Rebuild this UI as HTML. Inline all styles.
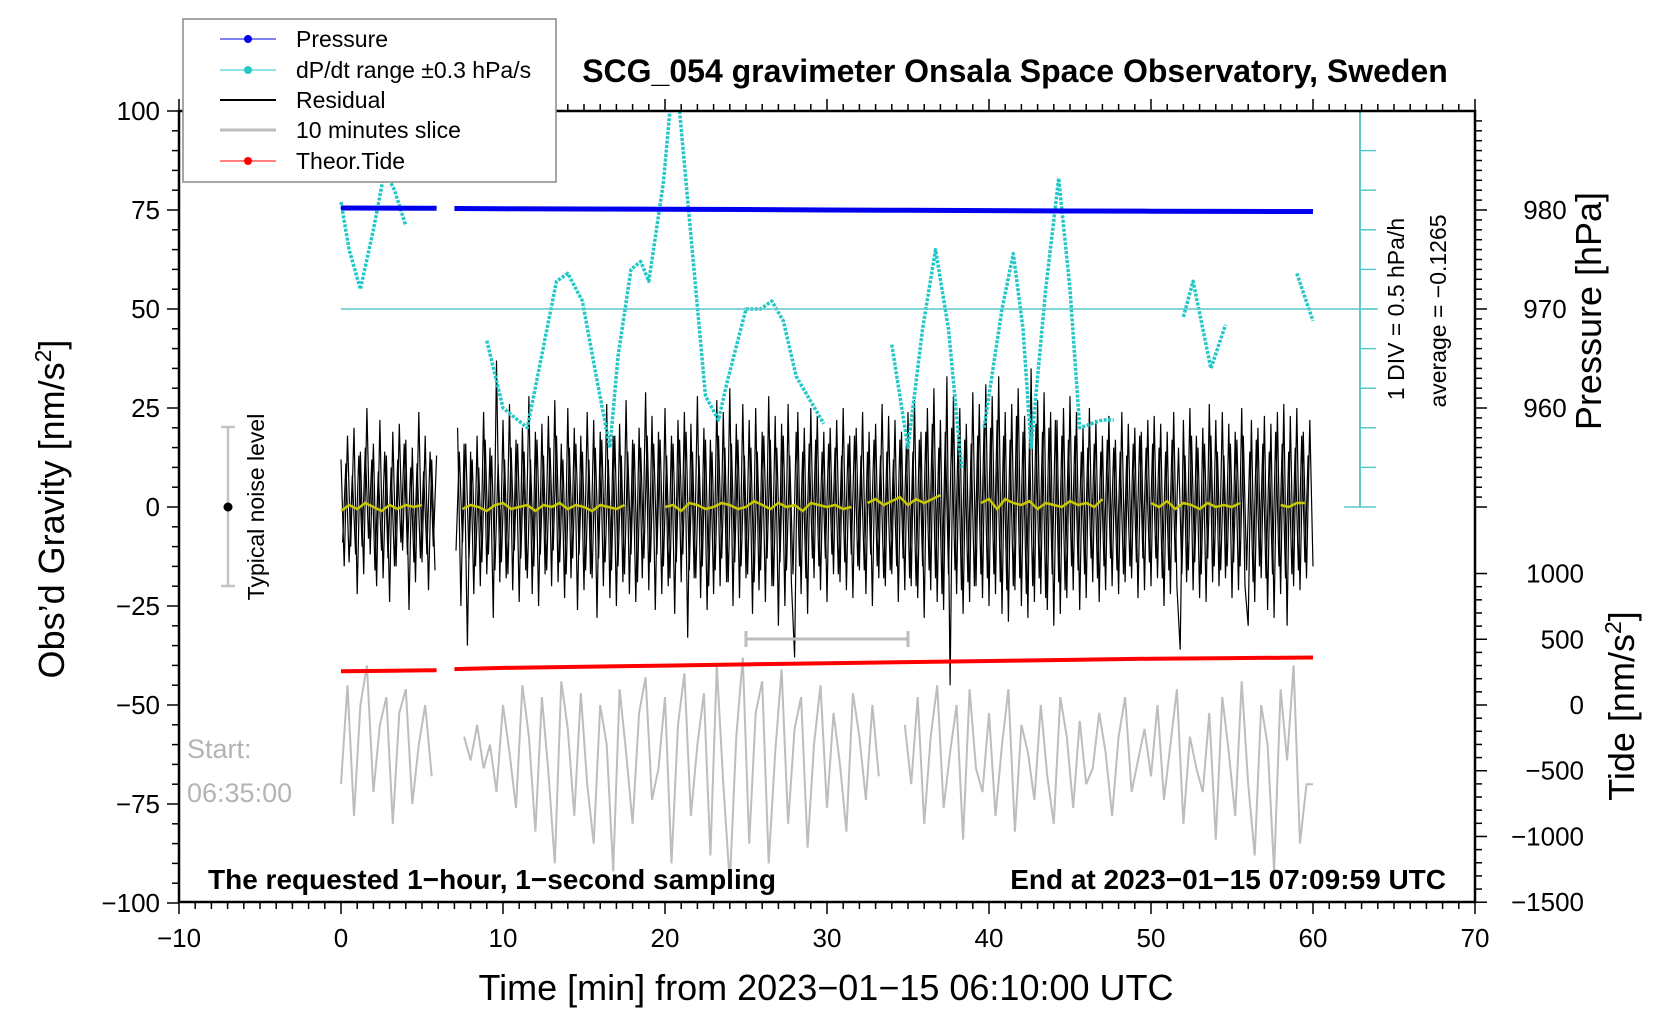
<!DOCTYPE html>
<html><head><meta charset="utf-8"><style>
html,body{margin:0;padding:0;background:#fff}
svg{display:block;font-family:"Liberation Sans",Arial,sans-serif}
</style></head><body>
<svg id="chart" width="1676" height="1020" viewBox="0 0 1676 1020" xmlns="http://www.w3.org/2000/svg">
<g id="marks"></g>
<g id="axes"></g>
</svg>
<script>
// ---- data ----
const residualStep = 0.2; // minutes
const residual = [
12,-15,18,-10,20,-22,14,-17,25,-12,16,-20,22,-18,13,-24,19,-15,21,-11,17,-26,15,-19,24,
-14,18,-21,12,-16,null,null,null,null,null,null,20,-25,16,-35,14,-22,18,-20,24,-17,15,-28,37,-19,
22,-18,26,-21,17,-24,20,-16,28,-22,19,-25,21,-17,23,-20,27,-19,16,-23,25,-18,20,-26,18,
-21,24,-17,22,-28,19,-20,26,-23,18,-25,21,-19,27,-22,17,-24,20,-18,29,-21,23,-26,19,-22,
25,-20,18,-27,22,-19,24,-33,21,-18,28,-23,20,-26,17,-22,27,-20,24,-19,30,-25,21,-23,26,
-18,22,-27,25,-21,19,-24,28,-20,23,-30,21,-25,26,-19,-38,24,-22,20,-27,25,-18,23,-21,19,
-24,20,-17,22,-19,25,-21,18,-23,20,-16,24,-22,19,-25,21,-18,26,-20,23,-17,22,-24,19,-21,
24,-20,27,-23,19,-28,25,-21,30,-24,22,-26,33,-45,28,-22,25,-27,21,-24,29,-20,26,-23,31,
-25,28,-22,33,-27,24,-29,26,-21,30,-25,23,-28,35,-24,27,-22,29,-26,24,-30,22,-27,25,-23,
28,-21,24,-26,20,-23,25,-19,22,-24,18,-21,23,-20,17,-22,24,-19,21,-18,20,-23,19,-21,22,
-20,23,-18,21,-25,19,-22,24,-20,-36,22,-19,25,-21,18,-23,20,-24,26,-19,22,-20,24,-18,21,
-23,19,-21,25,-20,-30,22,-24,20,-18,23,-26,21,-28,24,-22,26,-30,23,-20,25,-21,19,-18,22,
-15];
// second residual sample set, offset by 0.1 min (core of the noise band)
const residualB = [
-9,11,-14,8,-12,13,-10,15,-8,12,-16,9,-11,14,-13,10,-15,12,-9,16,-12,10,-14,11,-13,
9,-12,14,-10,13,null,null,null,null,null,-11,14,-9,16,-13,12,-15,10,-14,17,-12,13,-16,11,
-14,12,-17,15,-11,16,-13,14,-18,12,-15,17,-12,13,-16,15,-11,18,-14,12,-17,15,-13,16,-12,
14,-16,12,-18,15,-13,17,-14,12,-16,18,-15,13,-17,14,-12,16,-19,15,-13,18,-14,16,-12,17,
-15,13,-18,16,-14,17,-12,19,-16,14,-18,13,-15,17,-20,14,-16,18,-13,15,-19,16,-14,17,-15,
13,-17,15,-19,14,-16,18,-13,17,-20,15,-14,18,-16,13,-17,19,-15,14,-18,16,-13,17,-15,14,
-13,16,-12,15,-17,13,-14,16,-12,18,-15,13,-16,14,-12,17,-15,13,-18,14,-16,12,-15,17,-13,
16,-18,14,-20,17,-15,19,-16,21,-18,15,-22,19,-17,20,-16,18,-21,17,-19,16,-20,18,-17,21,
-18,20,-17,22,-19,18,-21,17,-20,23,-18,19,-22,17,-20,21,-18,19,-23,20,-17,22,-19,18,-21,
17,-15,18,-16,14,-17,15,-13,16,-18,14,-15,17,-13,15,-16,14,-17,13,-15,16,-14,18,-13,15,
-14,16,-13,15,-18,14,-16,17,-14,15,-17,13,-16,18,-14,15,-17,16,-13,18,-15,14,-16,13,-15,
16,-14,17,-15,18,-16,14,-19,17,-15,16,-18,14,-17,19,-15,16,-18,14,-17,15,-16,18,-14,13];
const sliceStep = 0.4;
const slice = [
-70,-45,-78,-50,-40,-72,-55,-48,-80,-52,-46,-75,-60,-50,-68,null,null,null,null,-58,-64,-55,-66,-60,-72,
-50,-62,-76,-45,-58,-82,-48,-67,-90,-44,-56,-78,-47,-70,-85,-50,-60,-92,-46,-62,-80,-52,-43,-74,-66,
-48,-90,-55,-42,-78,-60,-47,-88,-40,-70,-95,-58,-38,-85,-52,-44,-90,-62,-41,-80,-56,-48,-86,-60,-45,
-76,-52,-65,-82,-47,-58,-74,-50,-68,null,null,null,-55,-70,-48,-80,-58,-45,-76,-62,-50,-84,-46,-66,-72,
-52,-78,-60,-46,-82,-55,-62,-74,-50,-68,-80,-48,-58,-76,-54,-70,-66,-52,-62,-78,-58,-48,-72,-64,-56,
-68,-50,-74,-60,-46,-80,-58,-66,-72,-52,-84,-48,-62,-78,-44,-70,-88,-50,-60,-92,-46,-64,-40,-85,-70,
-70];
const yellowStep = 0.5;
const yellow = [
-1,0.5,-0.5,1,0,-1,0.5,-0.5,0.5,0,0.5,null,null,null,null,-0.5,0.5,0,-1,0.5,1,-0.5,0,0.5,-1,
0.5,0,1,-0.5,0.5,0,-1,0.5,0,-0.5,0.5,null,null,null,null,0,0.5,-1,1,0.5,-0.5,0,1,0.5,-0.5,
0,1.5,0.5,-0.5,1,0,0.5,-1,1,0.5,0,0.5,-0.5,0,null,1,2,0.5,1.5,2.5,0.5,2,1,2,3,
null,null,null,null,1,2,-0.5,2,1,0.5,1.5,-0.5,1,0.5,0,1.5,0.5,1,0,2,null,null,null,null,null,
1,0,1.5,-0.5,1,0.5,-0.5,1,0,0.5,0,1,null,null,null,null,0.5,0,1,1];
const cyanT = [0,0.5,1.2,2,2.7,3.3,4,null,9,10,11.5,13.3,14,14.9,15.8,16.6,17.1,17.9,18.5,19,19.9,20.3,null,20.9,22.5,23.3,23.8,25,25.9,26.6,27.3,28.1,29.8,null,34,35,35.9,36.7,37.5,38.3,null,39.7,40.8,41.5,42.1,42.6,43.5,44.3,45,45.6,47,47.7,null,52,52.6,53.7,54.6,null,59,60];
const cyanG = [77,65,55,70,85,80,71,null,42,25,20,57,59,52,32,15,38,60,62,57,82,100,null,100,28,22,31,50,50,52,47,33,21,null,41,15,45,65,45,10,null,20,50,64,45,15,55,83,55,20,22,22,null,48,57,35,46,null,59,47];
const pressT = [0,5,5.9,null,7,10,15,20,25,30,35,40,45,50,55,60];
const pressHPa = [980.2,980.18,980.17,null,980.15,980.12,980.1,980.08,980.05,980.0,979.97,979.94,979.9,979.88,979.86,979.85];
const tideT = [0,5,5.9,null,7,10,15,20,25,30,35,40,45,50,55,60];
const tideV = [256,263,265,null,273,282,291,300,309,317,326,335,343,352,357,361];
const xTicks = [-10,0,10,20,30,40,50,60,70];
const yTicks = [100,75,50,25,0,-25,-50,-75,-100];
const pTicks = [980,970,960];
const tTicks = [1000,500,0,-500,-1000,-1500];

// ---- scales ----
const X = t => 341 + t*16.2;
const Y = g => 507 - g*3.96;
const YP = p => Y(50 + (p-970)*2.5);
const YT = v => Y(-50 + v/500*16.6);
const NS = 'http://www.w3.org/2000/svg';
const marks = document.getElementById('marks');
const axes = document.getElementById('axes');
function mk(tag, attrs, parent){const e=document.createElementNS(NS,tag);for(const k in attrs)e.setAttribute(k,attrs[k]);(parent||marks).appendChild(e);return e;}
function pathFrom(ts, vs, yf){let d='',pen=false;for(let i=0;i<ts.length;i++){if(ts[i]===null||vs[i]===null){pen=false;continue;}d+=(pen?'L':'M')+X(ts[i]).toFixed(1)+','+yf(vs[i]).toFixed(1);pen=true;}return d;}
function stepped(arr, step, off){return arr.map((v,i)=>(off||0)+i*step);}

// gray slice
let e = mk('path',{d:pathFrom(stepped(slice,sliceStep),slice,Y),fill:'none',stroke:'#bdbdbd','stroke-width':2});


// residual
e = mk('path',{d:pathFrom(stepped(residualB,residualStep,0.1),residualB,Y),fill:'none',stroke:'#000','stroke-width':1.2});


e = mk('path',{d:pathFrom(stepped(residual,residualStep),residual,Y),fill:'none',stroke:'#000','stroke-width':1.2});


// yellow smoothed
e = mk('path',{d:pathFrom(stepped(yellow,yellowStep),yellow,Y),fill:'none',stroke:'#c8c800','stroke-width':2.5});


// cyan dP/dt
e = mk('path',{d:pathFrom(cyanT,cyanG,Y),fill:'none',stroke:'#22c8c8','stroke-width':3.5,'stroke-dasharray':'3 1.5','stroke-linejoin':'round'});


// pressure
e = mk('path',{d:pathFrom(pressT,pressHPa,YP),fill:'none',stroke:'#0000ee','stroke-width':5});


// tide
e = mk('path',{d:pathFrom(tideT,tideV,YT),fill:'none',stroke:'#ff0000','stroke-width':4});



// cyan axis
const cx=1360;
e = mk('line',{x1:341,y1:YP(970),x2:cx+18,y2:YP(970),stroke:'#5cc8c8','stroke-width':1.5},axes);


e = mk('line',{x1:cx,y1:111,x2:cx,y2:507,stroke:'#5cc8c8','stroke-width':2},axes);


for(let i=0;i<=10;i++){const y=111+i*39.6;const cap=(i===0||i===10);mk('line',{x1:cap?cx-16:cx,y1:y,x2:cx+16,y2:y,stroke:'#5cc8c8','stroke-width':1.5},axes);}

// frame
e = mk('rect',{x:179,y:111,width:1296,height:791,fill:'none',stroke:'#000','stroke-width':2.5},axes);


// x ticks
for(let t=-10;t<=70;t++){const maj=t%10===0;mk('line',{x1:X(t),y1:902,x2:X(t),y2:902+(maj?12:7),stroke:'#000','stroke-width':1.5},axes);mk('line',{x1:X(t),y1:111,x2:X(t),y2:111-(maj?12:7),stroke:'#000','stroke-width':1.5},axes);}
xTicks.forEach(t=>{const el=mk('text',{x:X(t),y:947,'font-size':26,'text-anchor':'middle'},axes);el.textContent=String(t).replace('-','\u2212');});
// y ticks
for(let g=-100;g<=100;g+=5){const maj=g%25===0;mk('line',{x1:179,y1:Y(g),x2:179-(maj?12:7),y2:Y(g),stroke:'#000','stroke-width':1.5},axes);}
yTicks.forEach(g=>{const el=mk('text',{x:160,y:Y(g)+9,'font-size':26,'text-anchor':'end'},axes);el.textContent=String(g).replace('-','\u2212');});
// pressure ticks
for(let p=950;p<=989;p++){const maj=p%10===0;mk('line',{x1:1475,y1:YP(p),x2:1475+(maj?12:7),y2:YP(p),stroke:'#000','stroke-width':1.5},axes);}
pTicks.forEach(p=>{const el=mk('text',{x:1545,y:YP(p)+9,'font-size':26,'text-anchor':'middle'},axes);el.textContent=p;});
// tide ticks
for(let v=-1500;v<=1000;v+=100){const maj=v%500===0;mk('line',{x1:1475,y1:YT(v),x2:1475+(maj?12:7),y2:YT(v),stroke:'#000','stroke-width':1.5},axes);}
tTicks.forEach(v=>{const el=mk('text',{x:1584,y:YT(v)+9,'font-size':26,'text-anchor':'end'},axes);el.textContent=String(v).replace('-','\u2212');});
</script>
<svg style="position:absolute;left:0;top:0" width="1676" height="1020" xmlns="http://www.w3.org/2000/svg" font-family="Liberation Sans, Arial, sans-serif">
<g stroke="#bdbdbd" stroke-width="3"><line x1="746" y1="639" x2="908" y2="639"/><line x1="746" y1="631" x2="746" y2="647"/><line x1="908" y1="631" x2="908" y2="647"/></g>
<g stroke="#c4c4c4" stroke-width="2.5"><line x1="228" y1="427" x2="228" y2="586"/><line x1="221" y1="427" x2="235" y2="427"/><line x1="221" y1="586" x2="235" y2="586"/></g>
<circle cx="228" cy="507" r="4.5" fill="#000"/>
<text transform="translate(264,507) rotate(-90)" text-anchor="middle" font-size="23">Typical noise level</text>
<text x="187" y="758" font-size="27" fill="#b4b4b4">Start:</text>
<text x="187" y="802" font-size="27" fill="#b4b4b4">06:35:00</text>
<text x="208" y="889" font-size="28" font-weight="bold">The requested 1−hour, 1−second sampling</text>
<text x="1446" y="889" font-size="28" font-weight="bold" text-anchor="end">End at 2023−01−15 07:09:59 UTC</text>
<text x="1015" y="82" font-size="32" font-weight="bold" text-anchor="middle">SCG_054 gravimeter Onsala Space Observatory, Sweden</text>
<text transform="translate(1404,309) rotate(-90)" text-anchor="middle" font-size="23">1 DIV = 0.5 hPa/h</text>
<text transform="translate(1446,311) rotate(-90)" text-anchor="middle" font-size="23">average = −0.1265</text>
<text transform="translate(64,509) rotate(-90)" text-anchor="middle" font-size="36">Obs’d Gravity [nm/s<tspan dy="-13" font-size="23">2</tspan><tspan dy="13">]</tspan></text>
<text transform="translate(1601,311) rotate(-90)" text-anchor="middle" font-size="36">Pressure [hPa]</text>
<text transform="translate(1634,706) rotate(-90)" text-anchor="middle" font-size="36">Tide [nm/s<tspan dy="-13" font-size="23">2</tspan><tspan dy="13">]</tspan></text>
<text x="826" y="1000" text-anchor="middle" font-size="36">Time [min] from 2023−01−15 06:10:00 UTC</text>
<g>
<rect x="183" y="19" width="373" height="163" fill="#fff" stroke="#888" stroke-width="1.5"/>
<g><line x1="220" y1="39" x2="276" y2="39" stroke="#0000ee" stroke-width="1"/><circle cx="248" cy="39" r="4" fill="#0000ee"/><text x="296" y="47" font-size="23">Pressure</text></g>
<g><line x1="220" y1="70" x2="276" y2="70" stroke="#22c8c8" stroke-width="1"/><circle cx="248" cy="70" r="4" fill="#22c8c8"/><text x="296" y="78" font-size="23">dP/dt range ±0.3 hPa/s</text></g>
<g><line x1="220" y1="100" x2="276" y2="100" stroke="#000" stroke-width="2"/><text x="296" y="108" font-size="23">Residual</text></g>
<g><line x1="220" y1="130" x2="276" y2="130" stroke="#bdbdbd" stroke-width="3"/><text x="296" y="138" font-size="23">10 minutes slice</text></g>
<g><line x1="220" y1="161" x2="276" y2="161" stroke="#ff0000" stroke-width="1"/><circle cx="248" cy="161" r="4" fill="#ff0000"/><text x="296" y="169" font-size="23">Theor.Tide</text></g>
</g>
</svg>
</body></html>
